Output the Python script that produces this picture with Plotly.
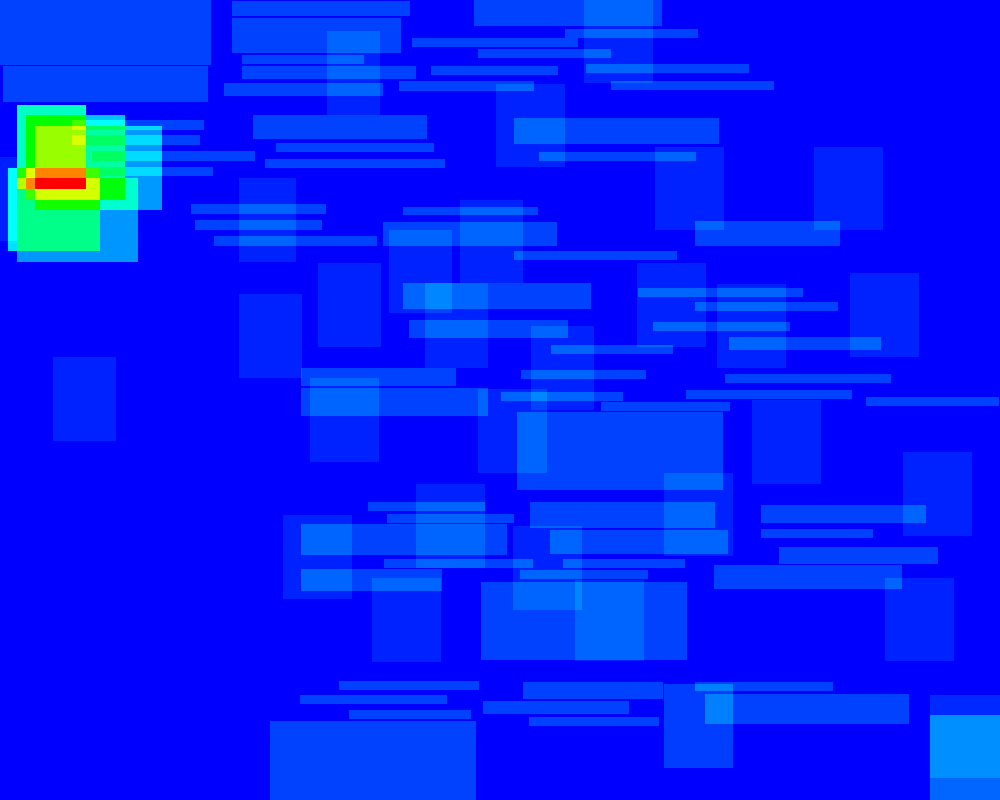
import numpy as np
import plotly.graph_objects as go

# Attention regions on a 1000x800 page: left, right, top, bottom edges and weight
reg_left = [17, 26, 35, 8, 17, 0,
            0, 3, 232, 232, 242, 242, 224, 412, 478, 431, 399, 474, 565, 586, 611,
            72, 72, 92, 100, 253, 276, 265, 514, 539, 191, 195, 214, 383, 403, 695,
            514, 403, 409, 638, 695, 653, 729, 551, 301, 301, 521, 725, 501, 686,
            866, 601, 517, 368, 387, 301, 384, 301, 530, 550, 563, 520, 481, 761,
            761, 779, 714, 339, 300, 349, 270, 523, 483, 529, 695, 705, 930,
            327, 584, 496, 655, 814, 239, 460, 389, 318, 637, 850, 425, 717, 239,
            531, 53, 310, 478, 752, 903, 664, 416, 283, 513, 372, 575, 885, 664, 930]
reg_right = [86, 125, 162, 100, 138, 17,
             211, 208, 410, 401, 364, 416, 383, 578, 611, 558, 534, 662, 698, 749, 774,
             204, 200, 255, 213, 427, 434, 445, 719, 696, 326, 322, 377, 557, 538, 840,
             677, 591, 568, 803, 838, 790, 881, 673, 456, 488, 646, 891, 623, 852,
             999, 730, 723, 485, 514, 507, 533, 442, 715, 728, 685, 648, 687, 926,
             873, 938, 902, 479, 447, 471, 476, 663, 629, 659, 833, 909, 1000,
             380, 653, 565, 724, 883, 296, 523, 452, 381, 706, 919, 488, 786, 302,
             594, 116, 379, 547, 821, 972, 733, 485, 352, 582, 441, 644, 954, 733, 1000]
reg_top = [105, 115, 126, 168, 178, 157,
           0, 66, 1, 18, 55, 66, 83, 38, 49, 66, 81, 0, 29, 64, 81,
           120, 135, 151, 167, 115, 143, 159, 118, 152, 204, 220, 236, 222, 207, 221,
           251, 283, 320, 288, 302, 322, 337, 345, 368, 388, 370, 374, 392, 390,
           397, 402, 412, 502, 514, 524, 559, 569, 502, 530, 559, 570, 582, 505,
           529, 547, 565, 681, 695, 710, 721, 682, 701, 717, 682, 694, 715,
           31, 0, 84, 147, 147, 178, 200, 230, 263, 263, 273, 283, 284, 294,
           326, 357, 378, 389, 400, 452, 473, 484, 515, 526, 578, 580, 578, 684, 695]
reg_bottom = [189, 200, 210, 251, 262, 241,
              65, 102, 16, 53, 64, 79, 96, 47, 58, 75, 91, 26, 38, 73, 90,
              130, 145, 161, 176, 139, 152, 168, 144, 161, 214, 230, 246, 246, 215, 246,
              260, 309, 338, 297, 311, 331, 350, 354, 386, 416, 379, 383, 401, 399,
              406, 411, 490, 511, 523, 555, 568, 591, 528, 554, 568, 579, 660, 523,
              538, 564, 589, 690, 704, 719, 800, 699, 714, 726, 691, 724, 800,
              115, 83, 167, 230, 230, 262, 283, 313, 347, 347, 357, 368, 368, 378,
              410, 441, 462, 473, 484, 536, 556, 568, 599, 610, 662, 661, 661, 768, 778]
reg_weight = ([0.31, 0.19, 0.15, 0.22, 0.147, 0.03]
              + [0.065] * 70 + [0.1]
              + [0.033] * 27 + [0.06, 0.04])

left = np.array(reg_left, float)
right = np.array(reg_right, float)
top = np.array(reg_top, float)
bottom = np.array(reg_bottom, float)
weight = np.array(reg_weight, float)

xe = np.unique(np.concatenate([[0, 1000], left, right]))
ye = np.unique(np.concatenate([[0, 800], top, bottom]))
xc = (xe[:-1] + xe[1:]) / 2
yc = (ye[:-1] + ye[1:]) / 2
X, Y = np.meshgrid(xc, yc)
Z = np.zeros_like(X)
for l, r, t, b, w in zip(left, right, top, bottom, weight):
    Z += w * ((X > l) & (X < r) & (Y > t) & (Y < b))

scale = [[0.0, "rgb(0,0,255)"], [0.25, "rgb(0,255,255)"], [0.5, "rgb(0,255,0)"],
         [0.75, "rgb(255,255,0)"], [1.0, "rgb(255,0,0)"]]

fig = go.Figure(go.Heatmap(x=xe, y=ye, z=Z, colorscale=scale, zmin=0, zmax=1,
                           showscale=False, zsmooth=False, hoverinfo="z"))
fig.update_layout(width=1000, height=800, margin=dict(l=0, r=0, t=0, b=0),
                  paper_bgcolor="rgb(0,0,255)", plot_bgcolor="rgb(0,0,255)")
fig.update_xaxes(range=[0, 1000], visible=False, showgrid=False, zeroline=False)
fig.update_yaxes(range=[800, 0], visible=False, showgrid=False, zeroline=False)
fig.write_html("out.html")
